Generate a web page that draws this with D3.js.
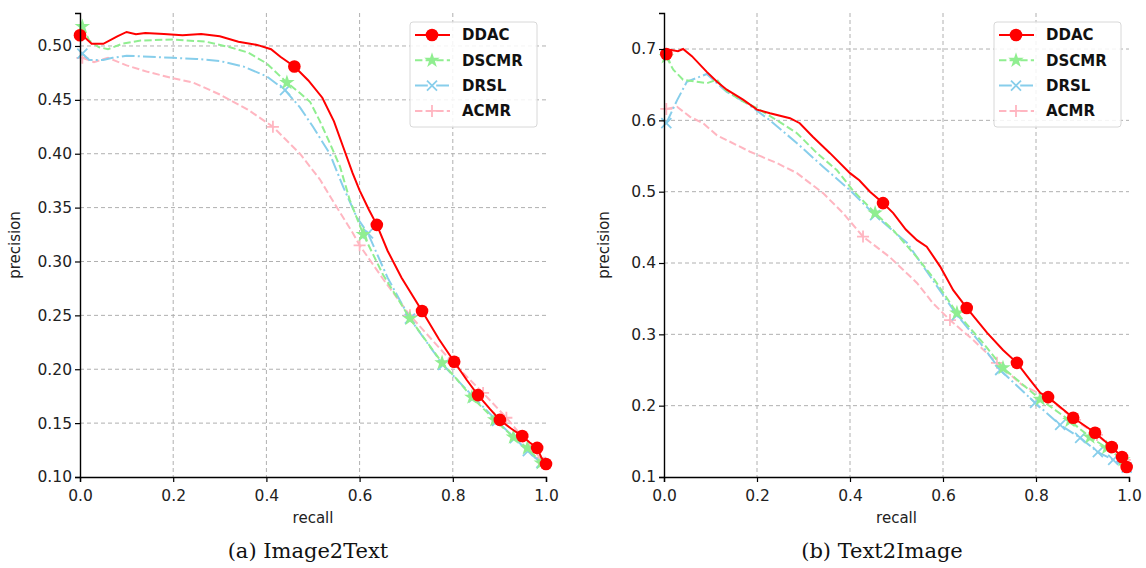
<!DOCTYPE html>
<html>
<head>
<meta charset="utf-8">
<script src="https://cdn.jsdelivr.net/npm/d3@7"></script>
<style>
  body { margin: 0; background: #fff; }
  text { font-family: "DejaVu Sans", sans-serif; }
  text.caption { font-family: "DejaVu Serif", "Liberation Serif", serif; }
</style>
</head>
<body>
<div id="chart"></div>
<script>
// ---- data ----
const methods = ["DDAC", "DSCMR", "DRSL", "ACMR"];
const xTicks = [0, 0.2, 0.4, 0.6, 0.8, 1.0];
const yTicksA = [0.10, 0.15, 0.20, 0.25, 0.30, 0.35, 0.40, 0.45, 0.50];
const yTicksB = [0.1, 0.2, 0.3, 0.4, 0.5, 0.6, 0.7];

// (a) Image2Text  [recall, precision]
const ddacA = [[0.0,0.510],[0.01,0.508],[0.025,0.502],[0.05,0.502],[0.08,0.509],[0.10,0.513],[0.12,0.511],[0.14,0.512],[0.18,0.511],[0.22,0.510],[0.26,0.511],[0.30,0.509],[0.34,0.504],[0.38,0.501],[0.41,0.497],[0.43,0.490],[0.46,0.481],[0.49,0.468],[0.52,0.452],[0.545,0.430],[0.565,0.406],[0.585,0.382],[0.60,0.366],[0.62,0.348],[0.637,0.334],[0.66,0.310],[0.69,0.285],[0.734,0.254],[0.77,0.228],[0.803,0.207],[0.83,0.190],[0.854,0.176],[0.88,0.163],[0.901,0.153],[0.925,0.145],[0.949,0.138],[0.965,0.132],[0.981,0.127],[0.99,0.118],[1.0,0.112]];
const ddacAMarks = [0,16,24,27,29,31,33,35,37,39];
const dscmrA = [[0.005,0.518],[0.02,0.505],[0.04,0.499],[0.06,0.497],[0.09,0.502],[0.13,0.505],[0.2,0.506],[0.27,0.504],[0.32,0.499],[0.36,0.494],[0.40,0.484],[0.444,0.466],[0.47,0.457],[0.494,0.448],[0.515,0.430],[0.536,0.410],[0.558,0.388],[0.579,0.357],[0.608,0.325],[0.65,0.288],[0.708,0.247],[0.745,0.225],[0.777,0.206],[0.81,0.190],[0.841,0.174],[0.89,0.153],[0.93,0.137],[0.96,0.127],[0.99,0.113]];
const dscmrAMarks = [0,11,18,20,22,24,25,26,27,28];
const drslA = [[0.005,0.493],[0.02,0.487],[0.05,0.487],[0.07,0.489],[0.10,0.491],[0.15,0.490],[0.2,0.489],[0.25,0.488],[0.3,0.486],[0.35,0.481],[0.40,0.472],[0.44,0.459],[0.472,0.443],[0.50,0.425],[0.536,0.400],[0.565,0.369],[0.594,0.341],[0.618,0.326],[0.66,0.285],[0.708,0.247],[0.779,0.204],[0.845,0.174],[0.895,0.152],[0.933,0.136],[0.961,0.124],[0.99,0.113]];
const drslAMarks = [0,11,17,19,20,21,22,23,24,25];
const acmrA = [[0.005,0.489],[0.03,0.485],[0.06,0.489],[0.1,0.482],[0.145,0.476],[0.2,0.470],[0.243,0.466],[0.3,0.455],[0.36,0.441],[0.414,0.425],[0.472,0.400],[0.515,0.376],[0.55,0.351],[0.586,0.326],[0.60,0.315],[0.65,0.284],[0.708,0.250],[0.80,0.206],[0.865,0.178],[0.915,0.155],[0.95,0.137],[0.987,0.118],[1.0,0.112]];
const acmrAMarks = [0,9,14,16,17,18,19,20,21];

// (b) Text2Image
const ddacB = [[0.005,0.693],[0.013,0.699],[0.03,0.697],[0.041,0.700],[0.06,0.690],[0.092,0.668],[0.114,0.654],[0.135,0.643],[0.17,0.629],[0.20,0.615],[0.228,0.610],[0.271,0.603],[0.292,0.596],[0.32,0.577],[0.357,0.554],[0.40,0.526],[0.42,0.516],[0.443,0.500],[0.471,0.484],[0.493,0.470],[0.52,0.447],[0.544,0.432],[0.565,0.423],[0.594,0.395],[0.622,0.362],[0.651,0.337],[0.695,0.302],[0.729,0.278],[0.759,0.260],[0.785,0.238],[0.809,0.218],[0.826,0.212],[0.88,0.183],[0.927,0.162],[0.963,0.142],[0.985,0.128],[0.995,0.114]];
const ddacBMarks = [0,18,25,28,31,32,33,34,35,36];
const dscmrB = [[0.005,0.689],[0.02,0.671],[0.041,0.657],[0.071,0.654],[0.092,0.652],[0.114,0.657],[0.127,0.645],[0.163,0.629],[0.20,0.617],[0.243,0.600],[0.286,0.582],[0.329,0.554],[0.372,0.530],[0.406,0.502],[0.454,0.470],[0.493,0.446],[0.544,0.408],[0.578,0.380],[0.63,0.330],[0.686,0.288],[0.729,0.253],[0.809,0.209],[0.873,0.179],[0.916,0.156],[0.952,0.141],[0.987,0.124],[1.0,0.110]];
const dscmrBMarks = [0,14,18,20,21,22,23,24,25];
const drslB = [[0.005,0.596],[0.028,0.628],[0.049,0.654],[0.092,0.665],[0.114,0.652],[0.135,0.640],[0.178,0.624],[0.228,0.600],[0.286,0.568],[0.342,0.535],[0.40,0.502],[0.454,0.467],[0.523,0.428],[0.578,0.376],[0.63,0.327],[0.68,0.288],[0.723,0.250],[0.798,0.204],[0.852,0.173],[0.895,0.155],[0.933,0.135],[0.966,0.124],[0.995,0.113]];
const drslBMarks = [0,11,14,16,17,18,19,20,21,22];
const acmrB = [[0.005,0.616],[0.028,0.619],[0.056,0.605],[0.084,0.596],[0.114,0.579],[0.142,0.570],[0.185,0.556],[0.243,0.540],[0.286,0.526],[0.342,0.498],[0.385,0.470],[0.428,0.437],[0.486,0.408],[0.544,0.372],[0.578,0.344],[0.615,0.320],[0.665,0.292],[0.716,0.260],[0.77,0.229],[0.826,0.211],[0.884,0.180],[0.931,0.159],[0.963,0.141],[0.991,0.124],[1.0,0.110]];
const acmrBMarks = [0,11,15,17,19,20,21,22,23];

// ---- styling per method ----
const styles = {
  DDAC:  {color: "#ff0000", dash: null,               marker: "circle"},
  DSCMR: {color: "#90ee90", dash: "7.4,3.2",          marker: "star"},
  DRSL:  {color: "#87ceeb", dash: "12.8,3.2,2,3.2",   marker: "times"},
  ACMR:  {color: "#ffb6c1", dash: "7.4,3.2",          marker: "plus"}
};

const svg = d3.select("#chart").append("svg")
    .attr("width", 1146).attr("height", 568);

function drawMarker(sel, kind, color) {
  if (kind === "circle") {
    sel.append("circle").attr("r", 6.3).attr("fill", color);
  } else if (kind === "star") {
    sel.append("path").attr("d", d3.symbol(d3.symbolStar, 75)()).attr("fill", color);
  } else if (kind === "times") {
    sel.append("path").attr("d", "M-5,-5L5,5M-5,5L5,-5")
      .attr("stroke", color).attr("stroke-width", 1.8).attr("fill", "none");
  } else {
    sel.append("path").attr("d", "M-6,0L6,0M0,-6L0,6")
      .attr("stroke", color).attr("stroke-width", 1.8).attr("fill", "none");
  }
}

function drawPanel(cfg) {
  const x = d3.scaleLinear().domain([0, 1]).range([cfg.left, cfg.right]);
  const y = d3.scaleLinear().domain(cfg.yDomain).range([477, 13]);
  const g = svg.append("g");

  // grid
  g.append("g").selectAll("line").data(xTicks.slice(1, -1)).join("line")
    .attr("x1", d => x(d)).attr("x2", d => x(d)).attr("y1", 13).attr("y2", 477)
    .attr("stroke", "#b0b0b0").attr("stroke-dasharray", "4,3");
  g.append("g").selectAll("line").data(cfg.yTicks.slice(1)).join("line")
    .attr("x1", cfg.left).attr("x2", cfg.right).attr("y1", d => y(d)).attr("y2", d => y(d))
    .attr("stroke", "#b0b0b0").attr("stroke-dasharray", "4,3");

  // series
  const line = d3.line().x(d => x(d[0])).y(d => y(d[1]));
  cfg.series.slice().reverse().forEach(s => {
    const st = styles[s.name];
    g.append("path").datum(s.data)
      .attr("d", line).attr("fill", "none")
      .attr("stroke", st.color).attr("stroke-width", 2)
      .attr("stroke-dasharray", st.dash);
    s.marks.forEach(i => {
      const m = g.append("g").attr("transform", `translate(${x(s.data[i][0])},${y(s.data[i][1])})`);
      drawMarker(m, st.marker, st.color);
    });
  });

  // axes
  const xAxis = g.append("g").attr("transform", "translate(0,477)")
    .call(d3.axisBottom(x).tickValues(xTicks).tickFormat(d3.format(".1f")).tickSizeOuter(0).tickSize(5));
  const yAxis = g.append("g").attr("transform", `translate(${cfg.left},0)`)
    .call(d3.axisLeft(y).tickValues(cfg.yTicks).tickFormat(d3.format(cfg.yFmt)).tickSizeOuter(0).tickSize(5));
  [xAxis, yAxis].forEach(a => {
    a.select(".domain").attr("stroke", "#000").attr("stroke-width", 1.4);
    a.selectAll(".tick line").attr("stroke", "#000").attr("stroke-width", 1.2);
    a.selectAll(".tick text").attr("font-size", 15.5).attr("fill", "#222");
  });
  xAxis.selectAll(".tick text").attr("dy", "1.05em");

  // axis labels
  g.append("text").attr("x", (cfg.left + cfg.right) / 2).attr("y", 523)
    .attr("text-anchor", "middle").attr("font-size", 15).attr("fill", "#222").text("recall");
  g.append("text").attr("transform", `translate(${cfg.yLabX},245) rotate(-90)`)
    .attr("text-anchor", "middle").attr("font-size", 15).attr("fill", "#222").text("precision");

  // caption
  g.append("text").attr("class", "caption").attr("x", cfg.capX).attr("y", 558)
    .attr("text-anchor", "middle").attr("font-size", 21)
    .attr("fill", "#111").text(cfg.caption);

  // legend
  const lg = g.append("g").attr("transform", `translate(${cfg.legX},22)`);
  lg.append("rect").attr("width", 127).attr("height", 105).attr("rx", 3)
    .attr("fill", "#fff").attr("fill-opacity", 0.85).attr("stroke", "#d8d8d8");
  methods.forEach((name, i) => {
    const st = styles[name];
    const row = lg.append("g").attr("transform", `translate(0,${13 + i * 25.3})`);
    row.append("line").attr("x1", 5).attr("x2", 40).attr("stroke", st.color)
      .attr("stroke-width", 2).attr("stroke-dasharray", st.dash);
    drawMarker(row.append("g").attr("transform", "translate(22,0)"), st.marker, st.color);
    row.append("text").attr("x", 52).attr("dy", "0.35em").attr("font-size", 15)
      .attr("font-weight", "bold").attr("fill", "#111").text(name);
  });
}

drawPanel({
  left: 80, right: 546, yDomain: [0.1, 0.5306], yTicks: yTicksA, yFmt: ".2f",
  caption: "(a) Image2Text", capX: 308, legX: 410, yLabX: 20,
  series: [
    {name: "DDAC", data: ddacA, marks: ddacAMarks},
    {name: "DSCMR", data: dscmrA, marks: dscmrAMarks},
    {name: "DRSL", data: drslA, marks: drslAMarks},
    {name: "ACMR", data: acmrA, marks: acmrAMarks}
  ]
});
drawPanel({
  left: 664, right: 1129, yDomain: [0.1, 0.7505], yTicks: yTicksB, yFmt: ".1f",
  caption: "(b) Text2Image", capX: 882, legX: 994, yLabX: 609,
  series: [
    {name: "DDAC", data: ddacB, marks: ddacBMarks},
    {name: "DSCMR", data: dscmrB, marks: dscmrBMarks},
    {name: "DRSL", data: drslB, marks: drslBMarks},
    {name: "ACMR", data: acmrB, marks: acmrBMarks}
  ]
});
</script>
</body>
</html>
